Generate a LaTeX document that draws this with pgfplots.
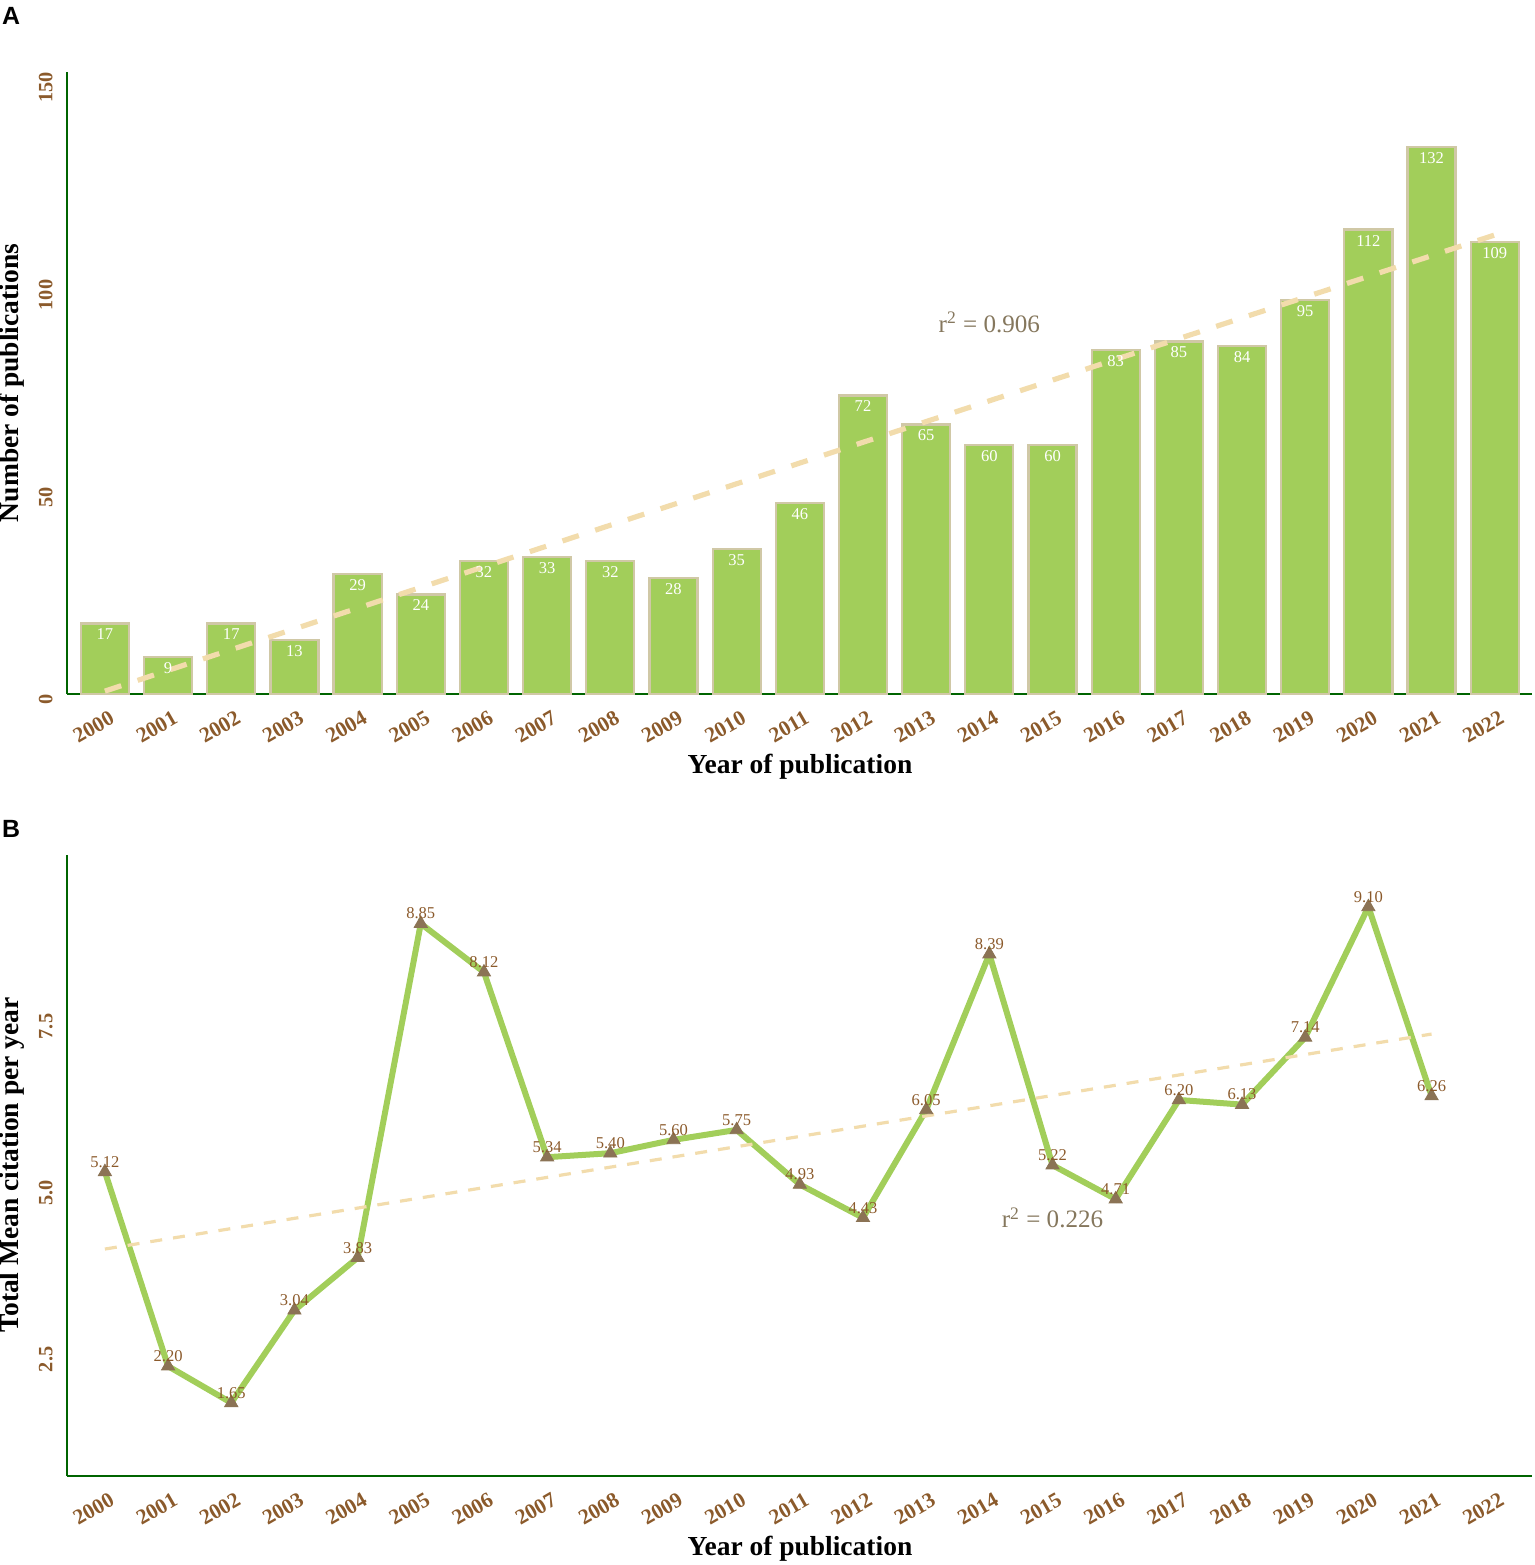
\documentclass[border=0pt]{standalone}
\usepackage{fontspec}
\setmainfont{Liberation Serif}
\newfontfamily\panelfont{Liberation Sans}
\usepackage{pgfplots}
\pgfplotsset{compat=1.18}
\usepackage{pgfplotstable}
\definecolor{bargreen}{RGB}{162,206,90}
\definecolor{barborder}{RGB}{208,200,166}
\definecolor{trend}{RGB}{242,220,172}
\definecolor{axgreen}{RGB}{0,100,0}
\definecolor{tickbrown}{RGB}{139,90,43}
\definecolor{markbrown}{RGB}{139,115,85}
\definecolor{rtext}{RGB}{133,119,93}

\pgfplotstableread{
year pubs
2000 17
2001 9
2002 17
2003 13
2004 29
2005 24
2006 32
2007 33
2008 32
2009 28
2010 35
2011 46
2012 72
2013 65
2014 60
2015 60
2016 83
2017 85
2018 84
2019 95
2020 112
2021 132
2022 109
}\pubtable

\pgfplotstableread{
year cit lab
2000 5.12 5.12
2001 2.20 2.20
2002 1.65 1.65
2003 3.04 3.04
2004 3.83 3.83
2005 8.85 8.85
2006 8.12 8.12
2007 5.34 5.34
2008 5.40 5.40
2009 5.60 5.60
2010 5.75 5.75
2011 4.93 4.93
2012 4.43 4.43
2013 6.05 6.05
2014 8.39 8.39
2015 5.22 5.22
2016 4.71 4.71
2017 6.20 6.20
2018 6.13 6.13
2019 7.14 7.14
2020 9.10 9.10
2021 6.26 6.26
}\cittable

\pgfplotsset{
  myaxis/.style={
    scale only axis,
    width=732.5bp,
    xmin=1999.4, xmax=2022.59,
    axis x line*=bottom,
    axis y line*=left,
    axis line style={draw=axgreen, line width=1.4bp, line join=round},
    major tick length=0pt,
    xtick={2000,...,2022},
    /pgf/number format/assume math mode=true,
    /pgf/number format/1000 sep={},
    ticklabel style={text=tickbrown},
    xticklabel style={font=\fontsize{10.8}{12}\selectfont\bfseries, rotate=30, anchor=north east, inner xsep=2.2bp, inner ysep=7.6bp},
    yticklabel style={font=\fontsize{10.2}{12}\selectfont\bfseries, rotate=90, anchor=south east, inner xsep=0pt, inner ysep=7bp},
    clip=false,
  }
}

\begin{document}
\begin{tikzpicture}
\useasboundingbox (0,0) rectangle (767.5bp,-782.5bp);

% ---------- Panel A ----------
\begin{axis}[myaxis,
  at={(33.5bp,-347bp)}, anchor=south west,
  height=311bp,
  ymin=0, ymax=150,
  ytick={0,50,100,150},
  yticklabels={0,50,100,150},
]
\addplot[ybar, bar width=0.76, fill=bargreen, draw=barborder, line width=1.1bp,
  nodes near coords,
  every node near coord/.append style={font=\fontsize{8.3}{10}\selectfont, text=white, anchor=center, yshift=-5.5bp},
] table[x=year, y=pubs] {\pubtable};
\addplot[trend, line width=2.6bp, dash pattern=on 8.6bp off 8.6bp] coordinates {(2000,0.7) (2022,110.7)};
\node[text=rtext, font=\fontsize{12.6}{14}\selectfont] at (axis cs:2014.0,89.7) {r\textsuperscript{2} = 0.906};
\end{axis}

% ---------- Panel B ----------
\begin{axis}[myaxis,
  at={(33.5bp,-738bp)}, anchor=south west,
  height=310.5bp,
  ymin=0.55, ymax=9.88,
  ytick={2.5,5,7.5},
  yticklabels={2.5,5.0,7.5},
]
\addplot[bargreen, line width=3bp, mark=none] table[x=year, y=cit] {\cittable};
\addplot[trend, line width=1.6bp, dash pattern=on 6bp off 5.5bp] coordinates {(2000,3.96) (2021,7.19)};
\addplot[only marks, mark=triangle*, mark size=3.8bp, mark options={fill=markbrown, draw=markbrown},
  point meta=explicit symbolic,
  nodes near coords,
  every node near coord/.append style={font=\fontsize{8.3}{10}\selectfont, text=tickbrown, anchor=center, yshift=5bp},
] table[x=year, y=cit, meta=lab] {\cittable};
\node[text=rtext, font=\fontsize{12.6}{14}\selectfont] at (axis cs:2015.0,4.43) {r\textsuperscript{2} = 0.226};
\end{axis}

% ---------- Titles ----------
\node[font=\fontsize{13.8}{16}\selectfont\bfseries] at (400bp,-383.5bp) {Year of publication};
\node[font=\fontsize{13.8}{16}\selectfont\bfseries] at (400bp,-774.5bp) {Year of publication};
\node[font=\fontsize{13.8}{16}\selectfont\bfseries, rotate=90] at (6bp,-191.5bp) {Number of publications};
\node[font=\fontsize{13.8}{16}\selectfont\bfseries, rotate=90] at (6bp,-582.5bp) {Total Mean citation per year};
\node[font=\panelfont\fontsize{12.5}{14}\selectfont\bfseries] at (5.5bp,-8bp) {A};
\node[font=\panelfont\fontsize{12.5}{14}\selectfont\bfseries] at (5.5bp,-414.5bp) {B};
\end{tikzpicture}
\end{document}
